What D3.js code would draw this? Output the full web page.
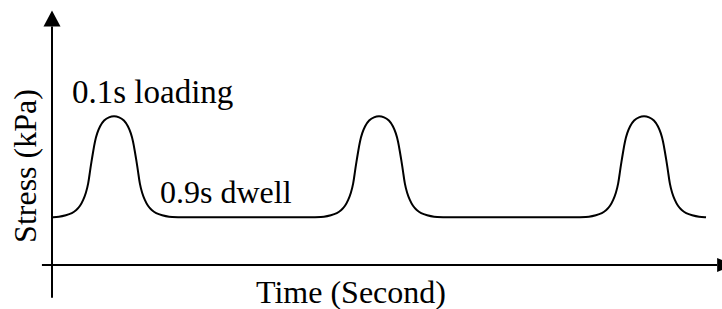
<!DOCTYPE html>
<html>
  <head>
    <title>Stress pulse schematic</title>
    <style>
      body { margin: 0; background: #fff; }
    </style>
  </head>
  <body>
    <script src="https://d3js.org/d3.v7.min.js"></script>
    <script>

// pulse shape: time from peak (s) and stress (kPa)
var pulseOffset = [0, 0.019, 0.038, 0.053, 0.064, 0.072, 0.078, 0.085, 0.091,
                   0.097, 0.106, 0.116, 0.128, 0.142, 0.158, 0.181, 0.208, 0.234];
var pulseStress = [100, 99.3, 97.3, 93.2, 88.4, 83, 76.9, 69.4, 62.6,
                   54.4, 48.3, 43.6, 39.5, 36.8, 34.7, 33.4, 32.3, 32];

// centre time of each load pulse (1 s cycle)
var peakTimes = [0.234, 1.234, 2.234];

var labels = ["0.1s loading", "0.9s dwell"];
var xTitle = "Time (Second)",
    yTitle = "Stress (kPa)";

var width = 722,
    height = 309,
    font = "'Liberation Serif', 'Times New Roman', 'DejaVu Serif', serif";

var x = d3.scaleLinear().domain([0, 1]).range([52, 317]);
var y = d3.scaleLinear().domain([0, 100]).range([265, 116]);

// build the series: each pulse is mirrored around its peak
var points = [];
peakTimes.forEach(function (tp) {
  for (var i = pulseOffset.length - 1; i > 0; i--) points.push([tp - pulseOffset[i], pulseStress[i]]);
  points.push([tp, pulseStress[0]]);
  for (var j = 1; j < pulseOffset.length; j++) points.push([tp + pulseOffset[j], pulseStress[j]]);
});

var svg = d3.select('body').append('svg')
    .attr('width', width)
    .attr('height', height);

// axes
svg.append('line')
    .attr('x1', x(-0.038)).attr('x2', x(2.51))
    .attr('y1', y(0)).attr('y2', y(0))
    .attr('stroke', '#000').attr('stroke-width', 2);

svg.append('line')
    .attr('x1', x(0)).attr('x2', x(0))
    .attr('y1', y(-22)).attr('y2', y(160))
    .attr('stroke', '#000').attr('stroke-width', 2);

// arrow heads
var ax = x(0), ay = y(160);
svg.append('path')
    .attr('d', 'M' + (ax - 8.5) + ',' + ay + 'L' + (ax + 8.5) + ',' + ay + 'L' + ax + ',' + (ay - 16) + 'Z')
    .attr('fill', '#000');

var bx = x(2.51), by = y(0);
svg.append('path')
    .attr('d', 'M' + bx + ',' + (by - 7) + 'L' + bx + ',' + (by + 7) + 'L' + (bx + 16) + ',' + by + 'Z')
    .attr('fill', '#000');

// stress curve
var line = d3.line()
    .x(function (d) { return x(d[0]); })
    .y(function (d) { return y(d[1]); })
    .curve(d3.curveBasis);

svg.append('path')
    .datum(points)
    .attr('d', line)
    .attr('fill', 'none')
    .attr('stroke', '#000')
    .attr('stroke-width', 2);

// annotations
function label(txt, size) {
  return svg.append('text')
      .attr('font-family', font)
      .attr('font-size', size)
      .attr('fill', '#000')
      .text(txt);
}

label(labels[0], 33).attr('x', 72).attr('y', 103);
label(labels[1], 32).attr('x', 160).attr('y', 203);
label(xTitle, 32).attr('x', 351).attr('y', 303).attr('text-anchor', 'middle');
label(yTitle, 32).attr('transform', 'translate(36,166) rotate(-90)').attr('text-anchor', 'middle');

    </script>
  </body>
</html>
